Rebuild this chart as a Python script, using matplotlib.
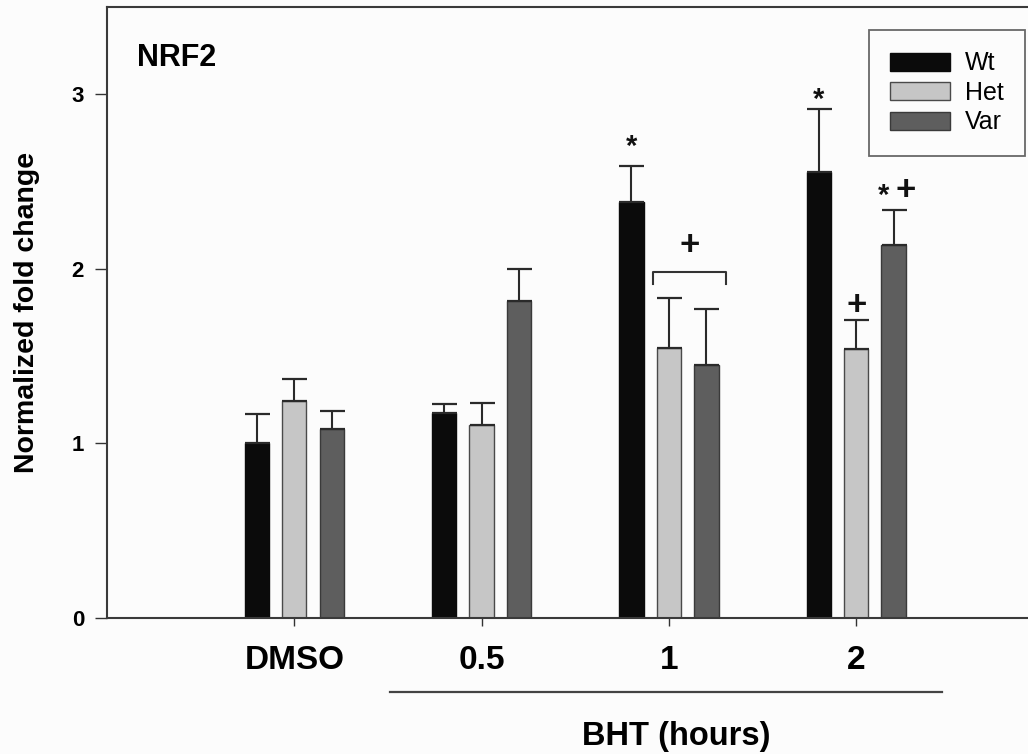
import matplotlib
matplotlib.use("Agg")
import matplotlib.pyplot as plt
import matplotlib.transforms as mtransforms
import numpy as np

plt.rcParams['font.family'] = ['Liberation Sans', 'DejaVu Sans']

# ---- data ----
categories = ["DMSO", "0.5", "1", "2"]
series = ["Wt", "Het", "Var"]
wt_mean = [1.00, 1.172, 2.385, 2.557]
wt_err = [0.166, 0.052, 0.203, 0.360]
het_mean = [1.243, 1.107, 1.548, 1.541]
het_err = [0.124, 0.122, 0.283, 0.166]
var_mean = [1.082, 1.816, 1.449, 2.137]
var_err = [0.103, 0.184, 0.319, 0.201]
yticks = [0, 1, 2, 3]

# significance marks: (label, group index, series index, y value, x shift)
sig_labels = ["*", "*", "+", "*", "+"]
sig_group = [2, 3, 3, 3, 3]
sig_series = [0, 0, 1, 2, 2]
sig_y = [2.75, 3.02, 1.808, 2.468, 2.468]
sig_shift = [0.0, 0.0, 0.0, -0.055, 0.065]
bracket_y = [1.913, 1.984]

means = [wt_mean, het_mean, var_mean]
errs = [wt_err, het_err, var_err]
colors = ["#0b0b0b", "#c6c6c6", "#5e5e5e"]
edges = ["#0b0b0b", "#4a4a4a", "#3a3a3a"]

W, H = 1028, 754
fig = plt.figure(figsize=(W / 100, H / 100), dpi=100)
fig.patch.set_facecolor("#fcfcfc")
ax = fig.add_axes([107 / W, 136.3 / H, 921 / W, 610.7 / H])
ax.set_facecolor("#fcfcfc")

x = np.arange(1, len(categories) + 1)
offsets = [-0.2, 0.0, 0.2]
bw = 0.13
for i, name in enumerate(series):
    ax.bar(x + offsets[i], means[i], width=bw, color=colors[i],
           edgecolor=edges[i], linewidth=1.0, label=name, zorder=2)
    ax.errorbar(x + offsets[i], means[i], yerr=[np.zeros(len(x)), errs[i]],
                fmt="none", ecolor="#2a2a2a", elinewidth=1.5, capsize=9,
                capthick=1.6, zorder=3)

ax.set_xlim(0, 921 / 187.3)
ax.set_ylim(0, 3.5)
ax.set_yticks(yticks)
ax.set_yticklabels([str(t) for t in yticks], fontsize=16, fontweight="bold")
ax.set_xticks(x)
ax.set_xticklabels(categories, fontsize=24, fontweight="bold")
ax.tick_params(axis="y", direction="out", length=8.5, width=1.0, pad=8, color="#333333")
ax.tick_params(axis="x", direction="out", length=6, width=1.0, pad=14, color="#333333")
for s in ["left", "bottom", "top"]:
    ax.spines[s].set_color("#3a3a3a")
    ax.spines[s].set_linewidth(1.5)
ax.spines["right"].set_visible(False)

ax.set_ylabel("Normalized fold change", fontsize=20.5, fontweight="bold")
ax.yaxis.set_label_coords(-0.073, 0.5)

ax.text(0.033, 0.903, "NRF2", transform=ax.transAxes, fontsize=22,
        fontweight="bold", ha="left", va="baseline")

# significance marks
for lab, g, s, yv, sh in zip(sig_labels, sig_group, sig_series, sig_y, sig_shift):
    xv = x[g] + offsets[s] + sh
    if lab == "*":
        fs = 21
        ax.annotate(lab, xy=(xv, yv), xytext=(0, -0.58 * fs), textcoords="offset points",
                    ha="center", va="baseline", fontsize=fs, fontweight="bold",
                    color="#111111")
    else:
        fs = 25
        ax.annotate(lab, xy=(xv, yv), xytext=(0, -0.36 * fs), textcoords="offset points",
                    ha="center", va="baseline", fontsize=fs, fontweight="bold", color="#111111")

# bracket over Het / Var at 1 h
bx0 = x[2] + offsets[1] - 0.085
bx1 = x[2] + offsets[2] + 0.105
ax.plot([bx0, bx0, bx1, bx1], [bracket_y[0], bracket_y[1], bracket_y[1], bracket_y[0]],
        color="#333333", lw=1.5, zorder=3)
bmid = (bx0 + bx1) / 2
ax.annotate("+", xy=(bmid, 2.15), xytext=(0, -0.36 * 25), textcoords="offset points",
            ha="center", va="baseline", fontsize=25, fontweight="bold", color="#111111")

# BHT grouping line and label
trans = mtransforms.blended_transform_factory(ax.transData, ax.transAxes)
ax.plot([1.51, 4.46], [-0.122, -0.122], transform=trans, color="#444444", lw=1.6,
        clip_on=False)
ax.text(3.04, -0.209, "BHT (hours)", transform=trans, ha="center", va="baseline",
        fontsize=23.5, fontweight="bold")

leg = ax.legend(loc="upper right", bbox_to_anchor=(0.9967, 0.962), fontsize=18,
                frameon=True, fancybox=False, edgecolor="#444444",
                handlelength=2.4, handleheight=0.75, handletextpad=0.6,
                labelspacing=0.22, borderpad=0.85, borderaxespad=0.0)
leg.get_frame().set_linewidth(1.3)
leg.get_frame().set_facecolor("#fcfcfc")

fig.savefig("out.png", dpi=100, facecolor=fig.get_facecolor())
